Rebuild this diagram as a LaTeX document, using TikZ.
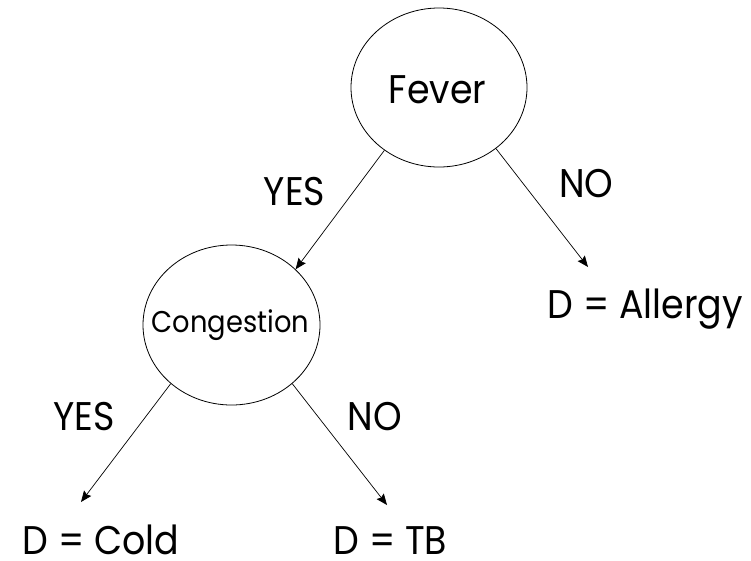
\documentclass[tikz,border=0pt]{standalone}
\usepackage{graphicx}
\usepackage{fontspec}
\setmainfont{Poppins}
\usetikzlibrary{shapes.geometric,arrows.meta}
\newcommand{\narrowtxt}[1]{\scalebox{0.91}[1]{#1}}
\begin{document}
\begin{tikzpicture}[x=1pt,y=-1pt,
  decision/.style={draw,ellipse,line width=0.8pt,inner sep=0pt},
  lbl/.style={anchor=base,inner sep=0pt,font=\fontsize{40}{40}\selectfont},
  arr/.style={line width=0.7pt,-{Stealth[length=11pt,width=9pt,inset=1.5pt]}}]
\useasboundingbox (0,0) rectangle (751,560);
% decision nodes
\node[decision,minimum width=176pt,minimum height=159pt] (fever) at (439,87.5) {};
\node[decision,minimum width=177pt,minimum height=160pt] (cong) at (231.5,325) {};
% texts
\node[lbl] (tfever) at (437.5,103) {\narrowtxt{Fever}};
\node[lbl,font=\fontsize{30}{30}\selectfont] (tcong) at (230.5,332) {\narrowtxt{Congestion}};
\node[lbl] (yes1) at (294.5,205) {\narrowtxt{YES}};
\node[lbl] (no1) at (586.5,197) {\narrowtxt{NO}};
\node[lbl] (allergy) at (645.5,318) {\narrowtxt{D = Allergy}};
\node[lbl] (yes2) at (84,430) {\narrowtxt{YES}};
\node[lbl] (no2) at (375,430) {\narrowtxt{NO}};
\node[lbl] (cold) at (101,554) {\narrowtxt{D = Cold}};
\node[lbl] (tb) at (390.5,554) {\narrowtxt{D = TB}};
% free ends
\coordinate (eA) at (588,267);
\coordinate (eC) at (81,502);
\coordinate (eT) at (387,505);
% connectors
\draw[arr] (fever.229.2) -- (cong.41.9);
\draw[arr] (fever.313.8) -- (eA);
\draw[arr] (cong.224.3) -- (eC);
\draw[arr] (cong.316.6) -- (eT);
\end{tikzpicture}
\end{document}
